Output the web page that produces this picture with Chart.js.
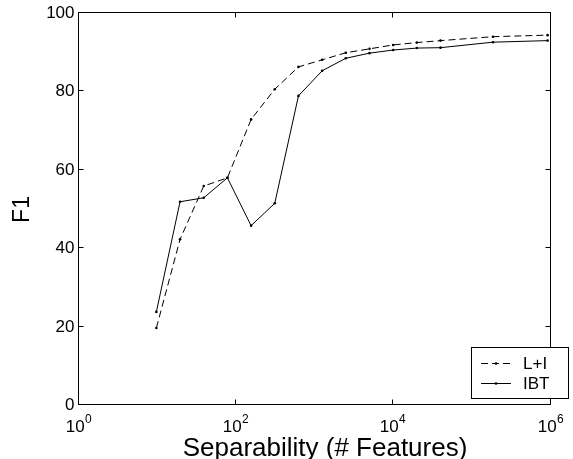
<!DOCTYPE html>
<html><head><meta charset="utf-8">
<script src="https://cdn.jsdelivr.net/npm/chart.js@4"></script>
<style>html,body{margin:0;padding:0;background:#fff;overflow:hidden}#wrap{width:573px;height:459px;position:relative}</style>
</head><body><div id="wrap"><canvas id="c" width="573" height="459"></canvas></div>
<script>
// ---- data ----
const features = [10, 20, 40, 80, 160, 320, 640, 1280, 2560, 5120, 10240, 20480, 40960, 190000, 940000];
const f1LI  = [19.4, 42.0, 55.6, 57.7, 72.6, 80.3, 86.0, 87.8, 89.6, 90.6, 91.6, 92.2, 92.7, 93.7, 94.1];
const f1IBT = [23.5, 51.6, 52.6, 57.7, 45.5, 51.2, 78.6, 85.0, 88.2, 89.5, 90.3, 90.8, 90.9, 92.3, 92.7];
const seriesNames = ['L+I', 'IBT'];
const yTickValues = [0, 20, 40, 60, 80, 100];
const xTickExponents = [0, 2, 4, 6];
const xTitle = 'Separability (# Features)';
const yTitle = 'F1';

const FONT = '"Liberation Sans", Arial, Helvetica, sans-serif';

function toPoints(ys){ return features.map((x,i)=>({x:x, y:ys[i]})); }

const matlabPlugin = {
  id: 'matlab',
  afterDraw(chart){
    const ctx = chart.ctx;
    const xs = chart.scales.x, ys = chart.scales.y;
    const a = chart.chartArea;
    const L = Math.round(a.left)+0.5, R = Math.round(a.right)+0.5, T = Math.round(a.top)+0.5, B = Math.round(a.bottom)+0.5;
    ctx.save();
    ctx.strokeStyle = '#000'; ctx.lineWidth = 1; ctx.setLineDash([]);
    ctx.strokeRect(L, T, R-L, B-T);
    const tl = 5;
    // y ticks
    ctx.fillStyle = '#000';
    ctx.font = '17px ' + FONT;
    ctx.textAlign = 'right'; ctx.textBaseline = 'middle';
    yTickValues.forEach(v=>{
      const py = Math.round(ys.getPixelForValue(v))+0.5;
      ctx.beginPath();
      ctx.moveTo(L, py); ctx.lineTo(L+tl, py);
      ctx.moveTo(R, py); ctx.lineTo(R-tl, py);
      ctx.stroke();
      ctx.fillText(String(v), L-4, py+1);
    });
    // x ticks
    xTickExponents.forEach(e=>{
      const px = Math.round(xs.getPixelForValue(Math.pow(10,e)))+0.5;
      ctx.beginPath();
      ctx.moveTo(px, B); ctx.lineTo(px, B-tl);
      ctx.moveTo(px, T); ctx.lineTo(px, T+tl);
      ctx.stroke();
      ctx.font = '17px ' + FONT;
      const wb = ctx.measureText('10').width;
      ctx.font = '12px ' + FONT;
      const we = ctx.measureText(String(e)).width;
      const x0 = px - (wb+we)/2;
      ctx.textAlign = 'left'; ctx.textBaseline = 'alphabetic';
      ctx.font = '17px ' + FONT;
      ctx.fillText('10', x0, 432);
      ctx.font = '12px ' + FONT;
      ctx.fillText(String(e), x0+wb+0.5, 423);
    });
    // axis titles
    ctx.font = '26px ' + FONT;
    ctx.textAlign = 'center'; ctx.textBaseline = 'alphabetic';
    ctx.fillText(xTitle, 325, 456);
    ctx.save();
    ctx.font = '23px ' + FONT;
    ctx.translate(29, (a.top+a.bottom)/2 + 1.5);
    ctx.rotate(-Math.PI/2);
    ctx.fillText(yTitle, 0, 0);
    ctx.restore();
    // legend
    const bx = 471.5, by = 347.5, bw = 97, bh = 51;
    ctx.fillStyle = '#fff';
    ctx.fillRect(bx, by, bw, bh);
    ctx.strokeStyle = '#000';
    ctx.strokeRect(bx, by, bw, bh);
    ctx.font = '17px ' + FONT;
    ctx.textAlign = 'left'; ctx.textBaseline = 'middle';
    chart.data.datasets.forEach((ds, i)=>{
      const ly = 363.5 + i*20;
      ctx.strokeStyle = '#000';
      ctx.lineWidth = 1;
      ctx.setLineDash(ds.borderDash || []);
      ctx.beginPath(); ctx.moveTo(481, ly); ctx.lineTo(511, ly); ctx.stroke();
      ctx.setLineDash([]);
      ctx.fillStyle = '#000';
      ctx.beginPath(); ctx.arc(496, ly, 1.3, 0, Math.PI*2); ctx.fill();
      ctx.fillText(ds.label, 523, ly+1);
    });
    ctx.restore();
  }
};

new Chart(document.getElementById('c'), {
  type: 'line',
  data: {
    datasets: [
      { label: seriesNames[0], data: toPoints(f1LI), borderColor: '#000', backgroundColor: '#000',
        borderWidth: 1, borderDash: [7, 4], pointRadius: 1.3, pointHoverRadius: 1.3, pointBorderWidth: 0, tension: 0, fill: false },
      { label: seriesNames[1], data: toPoints(f1IBT), borderColor: '#000', backgroundColor: '#000',
        borderWidth: 1, pointRadius: 1.3, pointHoverRadius: 1.3, pointBorderWidth: 0, tension: 0, fill: false }
    ]
  },
  options: {
    responsive: false, devicePixelRatio: 1, animation: false,
    layout: { padding: { top: 12, right: 23.3, left: 0, bottom: 0 } },
    plugins: { legend: { display: false }, tooltip: { enabled: false } },
    scales: {
      x: { type: 'logarithmic', min: 1, max: 1e6,
           ticks: { display: false }, grid: { display: false }, border: { display: false },
           afterFit: s => { s.height = 55; } },
      y: { type: 'linear', min: 0, max: 100,
           ticks: { display: false }, grid: { display: false }, border: { display: false },
           afterFit: s => { s.width = 77.7; } }
    }
  },
  plugins: [matlabPlugin]
});
</script>
</body></html>
